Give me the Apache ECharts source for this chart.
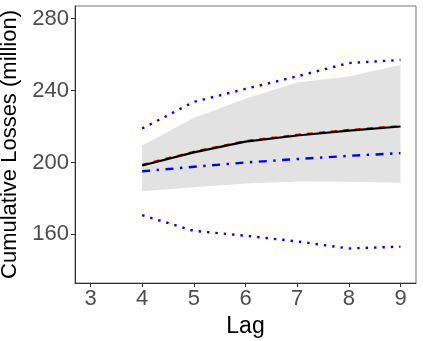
<!DOCTYPE html>
<html>
<head>
<meta charset="utf-8">
<script src="https://cdn.jsdelivr.net/npm/echarts@6/dist/echarts.min.js"></script>
<style>html,body{margin:0;padding:0;background:#fff}#c{width:423px;height:341px}</style>
</head>
<body>
<div id="c"></div>
<script>
var lags = [4, 5, 6, 7, 8, 9];
var xTicks = [3, 4, 5, 6, 7, 8, 9];
var yTicks = [160, 200, 240, 280];
var bandLower = [184.0, 186.2, 188.3, 189.4, 189.3, 188.7];
var bandUpper = [209.5, 224.7, 235.5, 244.4, 247.8, 254.2];
var meanBlack = [198.3, 205.6, 211.6, 215.0, 217.7, 220.0];
var meanRed = [198.7, 206.0, 211.9, 215.4, 218.1, 220.3];
var dashDot = [195.1, 197.6, 200.0, 201.9, 203.7, 205.2];
var dotUpper = [218.9, 233.7, 240.9, 247.9, 255.3, 257.0];
var dotLower = [170.7, 162.0, 159.3, 156.1, 152.2, 153.2];

function pairs(v) { return lags.map(function (x, i) { return [x, v[i]]; }); }
var bandData = lags.map(function (x, i) { return [x, bandLower[i], bandUpper[i]]; });

var chart = echarts.init(document.getElementById('c'), null, {renderer: 'canvas'});
chart.setOption({
  animation: false,
  backgroundColor: '#fff',
  grid: {left: 75, top: 6, width: 341, height: 277, show: true, borderColor: '#777', borderWidth: 1,
         backgroundColor: 'transparent', containLabel: false, outerBoundsMode: 'none'},
  xAxis: {
    type: 'value', min: 2.7, max: 9.3,
    name: 'Lag', nameLocation: 'middle', nameGap: 29,
    nameTextStyle: {fontSize: 23, color: '#000', fontFamily: 'Liberation Sans'},
    axisLine: {show: true, onZero: false, lineStyle: {color: '#333', width: 1}},
    axisTick: {show: true, length: 4, customValues: xTicks, lineStyle: {color: '#333'}},
    axisLabel: {customValues: xTicks, fontSize: 22, color: '#4d4d4d', margin: 5, fontFamily: 'Liberation Sans'},
    splitLine: {show: false}
  },
  yAxis: {
    type: 'value', min: 133, max: 287,
    name: 'Cumulative Losses (million)', nameLocation: 'middle', nameGap: 46,
    nameTextStyle: {fontSize: 22, color: '#000', fontFamily: 'Liberation Sans'},
    axisLine: {show: true, onZero: false, lineStyle: {color: '#333', width: 1}},
    axisTick: {show: true, length: 4, customValues: yTicks, lineStyle: {color: '#333'}},
    axisLabel: {customValues: yTicks, fontSize: 22, color: '#4d4d4d', margin: 6, fontFamily: 'Liberation Sans'},
    splitLine: {show: false}
  },
  series: [
    {
      type: 'custom', data: bandData, silent: true, z: 1,
      encode: {x: 0, y: [1, 2]},
      renderItem: function (params, api) {
        if (params.dataIndex !== 0) return null;
        var pts = [];
        var n = bandData.length, i;
        for (i = 0; i < n; i++) pts.push(api.coord([bandData[i][0], bandData[i][2]]));
        for (i = n - 1; i >= 0; i--) pts.push(api.coord([bandData[i][0], bandData[i][1]]));
        return {type: 'polygon', shape: {points: pts}, style: {fill: '#e2e2e2', stroke: null}};
      }
    },
    {type: 'line', data: pairs(dotUpper), symbol: 'none', lineStyle: {color: '#0000ff', width: 2.4, type: [2.4, 6]}},
    {type: 'line', data: pairs(dotLower), symbol: 'none', lineStyle: {color: '#0000ff', width: 2.4, type: [2.4, 6]}},
    {type: 'line', data: pairs(dashDot), symbol: 'none', lineStyle: {color: '#0000ff', width: 2.4, type: [8, 6.5, 2.4, 6.5]}},
    {type: 'line', data: pairs(meanRed), symbol: 'none', lineStyle: {color: '#ff0000', width: 2.2, type: [6, 6]}},
    {type: 'line', data: pairs(meanBlack), symbol: 'none', lineStyle: {color: '#000', width: 2.2}}
  ]
});
</script>
</body>
</html>
